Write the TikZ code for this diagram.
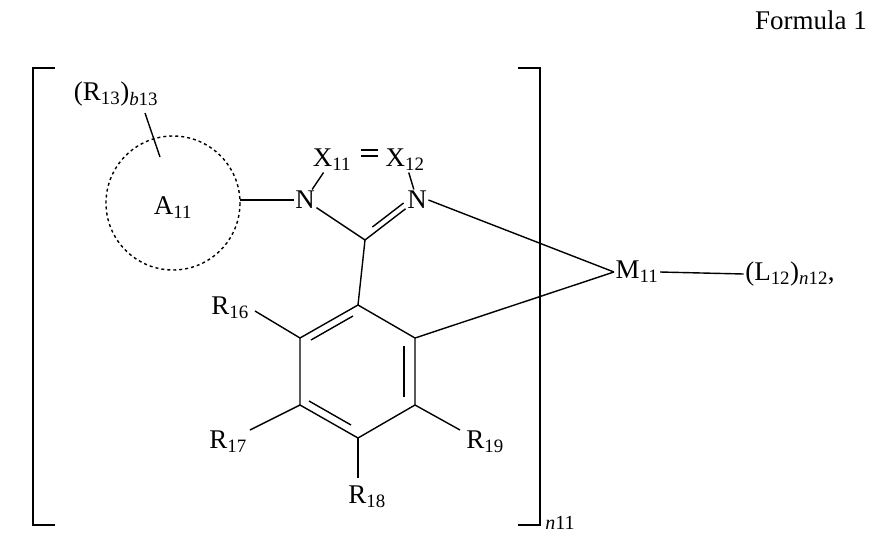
\documentclass[tikz,border=0pt]{standalone}
\usepackage{fontspec}
\setmainfont{Liberation Serif}
\usetikzlibrary{calc}
\begin{document}
\begin{tikzpicture}[x=1pt,y=-1pt,line width=1.4pt,
  lbl/.style={font=\fontsize{27}{30}\selectfont,inner sep=1pt}]
\useasboundingbox (0,0) rectangle (872,536);
\node[lbl] (f) at (811,20) {Formula 1};
% brackets
\draw (55,68) -- (33,68) -- (33,525) -- (55,525);
\draw (518,68) -- (540,68) -- (540,525) -- (518,525);
\node[lbl,font=\fontsize{20}{22}\selectfont] (n11) at (560,523) {\textit{n}11};
% ring A
\draw[dashed] (173,203) circle (67);
\node[lbl] (A) at (173,208) {A\textsubscript{11}};
\node[lbl] (R13) at (116,94) {(R\textsubscript{13})\textsubscript{\textit{b}13}};
\draw (145,113) -- (160,157);
% triazole
\node[lbl] (N1) at (305,200) {N};
\node[lbl] (N2) at (417,200) {N};
\node[lbl] (X11) at (332,160) {X\textsubscript{11}};
\node[lbl] (X12) at (405,160) {X\textsubscript{12}};
\coordinate (C) at (365,240);
\draw (240,200) -- (N1.west);
\draw (N1) -- (X11);
\draw (X12) -- (N2);
\draw (361,150) -- (378,150);
\draw (361,156) -- (378,156);
\draw (N1) -- (C);
\draw (C) -- (N2);
\draw ($(C)!0.2!(N2)+(-3,-5)$) -- ($(C)!0.8!(N2)+(-3,-5)$);
% benzene
\coordinate (b1) at (358,305);
\coordinate (b2) at (415,338);
\coordinate (b3) at (415,405);
\coordinate (b4) at (358,438);
\coordinate (b5) at (300,405);
\coordinate (b6) at (300,338);
\draw (b1)--(b2)--(b3)--(b4)--(b5)--(b6)--cycle;
\draw (C) -- (b1);
\draw (404,346) -- (404,397);
\draw (351,425) -- (309,401);
\draw (311,340) -- (353,316);
% metal
\node[lbl] (M) at (637,272) {M\textsubscript{11}};
\node[lbl] (L) at (790,274) {(L\textsubscript{12})\textsubscript{\textit{n}12},};
\draw (N2.east) -- (M.west);
\draw (b2) -- (M.west);
\draw (M.east) -- (L.west);
% substituents
\node[lbl] (R16) at (230,308) {R\textsubscript{16}};
\node[lbl] (R17) at (228,442) {R\textsubscript{17}};
\node[lbl] (R18) at (367,497) {R\textsubscript{18}};
\node[lbl] (R19) at (485,442) {R\textsubscript{19}};
\draw (255,311) -- (b6);
\draw (250,430) -- (b5);
\draw (b4) -- (358,478);
\draw (b3) -- (460,430);
\end{tikzpicture}
\end{document}
